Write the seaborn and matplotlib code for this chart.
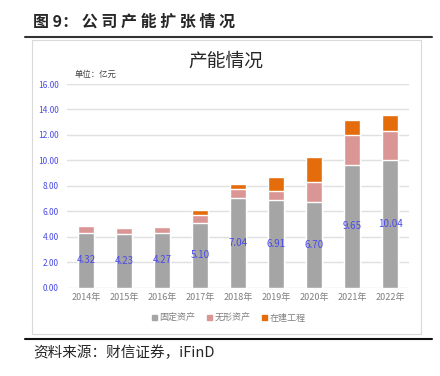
import matplotlib
matplotlib.use('Agg')
import matplotlib.pyplot as plt
import seaborn as sns
import pandas as pd
import numpy as np
from matplotlib.patches import Rectangle
from matplotlib.lines import Line2D

years = ['2014年', '2015年', '2016年', '2017年', '2018年', '2019年', '2020年', '2021年', '2022年']
fixed_assets = [4.32, 4.23, 4.27, 5.10, 7.04, 6.91, 6.70, 9.65, 10.04]
intangible = [0.55, 0.48, 0.45, 0.57, 0.70, 0.70, 1.60, 2.32, 2.27]
construction = [0.00, 0.02, 0.02, 0.42, 0.42, 1.10, 1.97, 1.18, 1.29]
series_names = ['固定资产', '无形资产', '在建工程']

sns.set_style('white')
plt.rcParams['font.family'] = ['Noto Sans CJK SC', 'DejaVu Sans']

c_gray = '#a5a5a5'
c_pink = '#da9694'
c_orange = '#e46c0a'
c_blue = '#4a4ae8'

df = pd.DataFrame({'year': years, 'fixed': fixed_assets,
                   'intangible': intangible, 'construction': construction})
df['lvl2'] = df['fixed'] + df['intangible']
df['lvl3'] = df['lvl2'] + df['construction']

fig = plt.figure(figsize=(4.4, 3.76), dpi=100)
ax = fig.add_axes([67/440, 1 - 287.5/376, (409 - 67)/440, (287.5 - 84)/376])

w = 0.41
sns.barplot(data=df, x='year', y='lvl3', color=c_orange, width=w, saturation=1, ax=ax)
sns.barplot(data=df, x='year', y='lvl2', color=c_pink, width=w, saturation=1, ax=ax)
sns.barplot(data=df, x='year', y='fixed', color=c_gray, width=w, saturation=1, ax=ax)

ax.bar_label(ax.containers[2], labels=[f'{v:.2f}' for v in fixed_assets],
             label_type='center', color=c_blue, fontsize=7)

ax.set_ylim(0, 16)
ax.set_xlim(-0.5, 8.5)
ax.set_yticks(np.arange(0, 17, 2))
ax.set_yticklabels([f'{v:.2f}' for v in np.arange(0, 17, 2)], color=c_blue, fontsize=6)
ax.tick_params(axis='x', colors='#7f7f7f', labelsize=6.5, length=0, pad=4)
ax.tick_params(axis='y', length=0, pad=6)
ax.set_xlabel('')
ax.set_ylabel('')
ax.grid(axis='y', color='#e0e0e0', linewidth=1)
ax.set_axisbelow(True)
for s in ax.spines.values():
    s.set_visible(False)

handles = [Rectangle((0, 0), 1, 1, color=c) for c in [c_gray, c_pink, c_orange]]
fig.legend(handles, series_names, loc='center', bbox_to_anchor=(0.52, 1 - 318/376),
           ncol=3, frameon=False, fontsize=6.5, labelcolor='#7f7f7f',
           handlelength=0.55, handleheight=0.55, handletextpad=0.3, columnspacing=1.3)

# chart frame and page rules
fig.add_artist(Rectangle((32/440, 1 - 334/376), (421 - 32)/440, (334 - 40)/376,
                         transform=fig.transFigure, fill=False, edgecolor='#d9d9d9', linewidth=0.8))
fig.add_artist(Line2D([25/440, 432/440], [1 - 37/376] * 2, color='#333333', linewidth=1.5))
fig.add_artist(Line2D([25/440, 432/440], [1 - 339/376] * 2, color='#111111', linewidth=1.5))

fig.text(33/440, 1 - 22/376, '图 9： 公 司 产 能 扩 张 情 况', fontsize=11.5, fontweight='bold', va='center')
fig.text(226/440, 1 - 61/376, '产能情况', fontsize=13.5, va='center', ha='center', color='#262626')
fig.text(75/440, 1 - 74/376, '单位：亿元', fontsize=6, va='center', color='#404040')
fig.text(33/440, 1 - 353/376, '资料来源：财信证券，iFinD', fontsize=10.5, va='center', style='italic')

fig.savefig('out.png', dpi=100)
